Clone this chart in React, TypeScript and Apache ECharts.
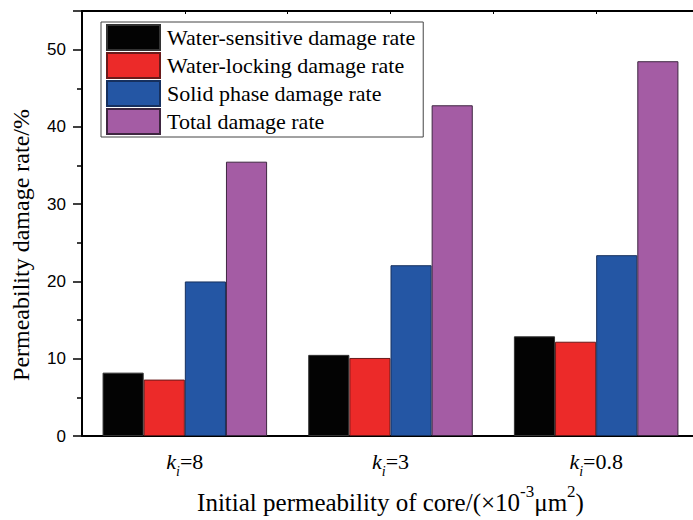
import React, { useEffect, useRef } from "react";
import * as echarts from "echarts";

const categories = ["8", "3", "0.8"];
const seriesNames = [
  "Water-sensitive damage rate",
  "Water-locking damage rate",
  "Solid phase damage rate",
  "Total damage rate",
];
const waterSensitive = [8.2, 10.5, 12.9];
const waterLocking = [7.3, 10.1, 12.2];
const solidPhase = [20.0, 22.1, 23.4];
const totalDamage = [35.5, 42.8, 48.5];
const colors = ["#030303", "#EC2A29", "#2456A4", "#A45CA4"];
const borders = ["#333333", "#6a1a1a", "#16305e", "#3e2640"];

const SERIF = "Liberation Serif";
const SANS = "Liberation Sans";

export default function App() {
  const ref = useRef<HTMLDivElement>(null);
  useEffect(() => {
    if (!ref.current) return;
    const chart = echarts.init(ref.current, null, { renderer: "svg" });
    const data = [waterSensitive, waterLocking, solidPhase, totalDamage];
    chart.setOption({
      animation: false,
      backgroundColor: "#ffffff",
      textStyle: { fontFamily: SERIF },
      grid: {
        left: 82,
        top: 11,
        width: 617,
        height: 425,
        containLabel: false,
        outerBoundsMode: "none",
      },
      legend: {
        orient: "vertical",
        left: 101,
        top: 22,
        padding: [2, 8, 2, 5],
        itemWidth: 53,
        itemHeight: 25,
        itemGap: 1,
        borderColor: "#444",
        borderWidth: 1,
        icon: "rect",
        data: seriesNames,
        textStyle: {
          fontFamily: SERIF,
          fontSize: 22,
          lineHeight: 25,
          color: "#000",
          padding: [0, 0, 0, 2],
        },
      },
      xAxis: [
        {
          type: "category",
          data: categories,
          position: "bottom",
          axisLine: { lineStyle: { color: "#000", width: 2 } },
          axisTick: { show: false },
          axisLabel: {
            margin: 14,
            formatter: (v: string) => `{k|k}{i|i}{t|=${v}}`,
            rich: {
              k: { fontFamily: SERIF, fontStyle: "italic", fontSize: 22, color: "#000", lineHeight: 28, verticalAlign: "top" },
              i: { fontFamily: SERIF, fontStyle: "italic", fontSize: 14, color: "#000", lineHeight: 14, verticalAlign: "bottom" },
              t: { fontFamily: SERIF, fontSize: 22, color: "#000", lineHeight: 28, verticalAlign: "top" },
            },
          },
          name: "{a|Initial permeability of core/(×10}{s|-3}{a|μm}{s|2}{a|)}",
          nameLocation: "middle",
          nameGap: 46,
          nameTextStyle: {
            rich: {
              a: { fontFamily: SERIF, fontSize: 25, color: "#000", lineHeight: 32, verticalAlign: "bottom" },
              s: { fontFamily: SERIF, fontSize: 17, color: "#000", lineHeight: 16, verticalAlign: "top" },
            },
          },
        },
        {
          type: "value",
          position: "top",
          min: 0,
          max: 3,
          interval: 0.5,
          axisLine: { show: true, lineStyle: { color: "#000", width: 2 } },
          axisTick: { show: true, inside: true, length: 3, lineStyle: { color: "#000", width: 1 } },
          axisLabel: { show: false },
          splitLine: { show: false },
        },
      ],
      yAxis: {
        type: "value",
        min: 0,
        max: 55,
        interval: 10,
        axisLine: { show: true, lineStyle: { color: "#000", width: 2 } },
        axisTick: { show: true, inside: false, length: 9, lineStyle: { color: "#000", width: 1.5 } },
        minorTick: { show: true, splitNumber: 2, length: 5, lineStyle: { color: "#000", width: 1.5 } },
        splitLine: { show: false },
        axisLabel: {
          margin: 16,
          showMaxLabel: false,
          fontFamily: SANS,
          fontSize: 17,
          color: "#000",
          formatter: (v: number) => (v > 50 ? "" : String(v)),
        },
      },
      graphic: [
        {
          type: "text",
          x: 21,
          y: 245,
          rotation: Math.PI / 2,
          style: {
            text: "Permeability damage rate/%",
            fontFamily: SERIF,
            fontSize: 24,
            fill: "#000",
            align: "center",
            verticalAlign: "middle",
          },
        },
      ],
      series: seriesNames.map((name, idx) => ({
        name,
        type: "bar",
        xAxisIndex: 0,
        data: data[idx],
        barGap: "0%",
        barCategoryGap: "20%",
        itemStyle: { color: colors[idx], borderColor: borders[idx], borderWidth: 1 },
      })),
    });
    return () => chart.dispose();
  }, []);
  return (
    <div
      ref={ref}
      style={{ position: "absolute", left: 0, top: 0, width: 693, height: 520, background: "#fff" }}
    />
  );
}
